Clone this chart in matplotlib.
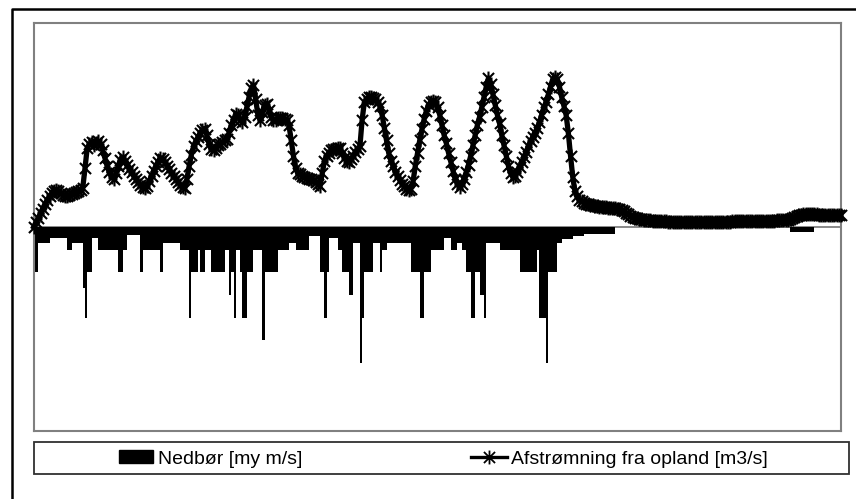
import numpy as np
import matplotlib
matplotlib.use('Agg')
import matplotlib.pyplot as plt
from matplotlib.path import Path
from matplotlib.lines import Line2D
from matplotlib.patches import Rectangle, Patch

plt.rcParams['font.family'] = ['Liberation Sans', 'DejaVu Sans']

# daily runoff from the catchment [m3/s]
afstroemning = [
    0.0, 0.09, 0.18, 0.27, 0.36, 0.45, 0.53, 0.6, 0.66, 0.71,
    0.72, 0.7, 0.66, 0.63, 0.61, 0.6, 0.62, 0.64, 0.66, 0.68,
    0.7, 0.73, 0.77, 1.15, 1.55, 1.62, 1.66, 1.6, 1.64, 1.68,
    1.62, 1.5, 1.35, 1.2, 1.07, 0.98, 0.95, 1.05, 1.2, 1.32,
    1.37, 1.3, 1.22, 1.14, 1.07, 1.0, 0.94, 0.88, 0.83, 0.79,
    0.76, 0.8, 0.9, 1.0, 1.1, 1.2, 1.28, 1.36, 1.33, 1.27,
    1.2, 1.13, 1.06, 1.0, 0.94, 0.88, 0.83, 0.79, 0.76, 0.95,
    1.2, 1.42, 1.58, 1.68, 1.76, 1.85, 1.9, 1.93, 1.8, 1.62,
    1.52, 1.5, 1.55, 1.6, 1.63, 1.66, 1.7, 1.72, 1.85, 2.0,
    2.1, 2.22, 2.2, 2.1, 2.05, 2.15, 2.35, 2.55, 2.72, 2.78,
    2.5, 2.2, 2.1, 2.25, 2.4, 2.42, 2.3, 2.15, 2.09, 2.1,
    2.13, 2.13, 2.14, 2.12, 2.1, 2.0, 1.7, 1.4, 1.15, 1.05,
    1.03, 1.0, 0.98, 0.97, 0.95, 0.94, 0.92, 0.88, 0.84, 0.8,
    1.05, 1.3, 1.4, 1.45, 1.5, 1.52, 1.53, 1.54, 1.55, 1.45,
    1.36, 1.3, 1.27, 1.33, 1.4, 1.47, 1.53, 1.58, 2.1, 2.45,
    2.5, 2.55, 2.55, 2.52, 2.5, 2.45, 2.38, 2.2, 1.95, 1.7,
    1.45, 1.3, 1.2, 1.08, 1.0, 0.93, 0.85, 0.8, 0.75, 0.72,
    0.75, 0.9, 1.2, 1.45, 1.7, 1.92, 2.12, 2.28, 2.4, 2.45,
    2.48, 2.45, 2.35, 2.2, 2.0, 1.8, 1.64, 1.45, 1.28, 1.1,
    0.95, 0.85, 0.79, 0.85, 0.95, 1.08, 1.22, 1.4, 1.6, 1.8,
    2.0, 2.16, 2.35, 2.55, 2.75, 2.92, 2.8, 2.6, 2.4, 2.2,
    2.03, 1.8, 1.6, 1.4, 1.2, 1.05, 0.98, 1.0, 1.08, 1.18,
    1.28, 1.38, 1.48, 1.58, 1.68, 1.77, 1.85, 1.95, 2.05, 2.2,
    2.35, 2.45, 2.6, 2.75, 2.9, 2.94, 2.9, 2.75, 2.55, 2.38,
    2.2, 1.85, 1.4, 0.98, 0.7, 0.6, 0.52, 0.5, 0.48, 0.46,
    0.45, 0.44, 0.43, 0.42, 0.41, 0.4, 0.4, 0.39, 0.39, 0.38,
    0.38, 0.37, 0.37, 0.36, 0.36, 0.34, 0.31, 0.28, 0.25, 0.22,
    0.2, 0.18, 0.17, 0.16, 0.15, 0.14, 0.14, 0.13, 0.13, 0.12,
    0.12, 0.12, 0.11, 0.11, 0.11, 0.11, 0.1, 0.1, 0.1, 0.1,
    0.1, 0.1, 0.1, 0.1, 0.1, 0.1, 0.1, 0.1, 0.1, 0.1,
    0.1, 0.1, 0.1, 0.1, 0.1, 0.1, 0.1, 0.1, 0.1, 0.1,
    0.1, 0.1, 0.1, 0.1, 0.1, 0.11, 0.11, 0.11, 0.11, 0.11,
    0.11, 0.11, 0.11, 0.11, 0.11, 0.12, 0.12, 0.12, 0.12, 0.12,
    0.12, 0.12, 0.12, 0.12, 0.12, 0.13, 0.13, 0.13, 0.13, 0.13,
    0.14, 0.16, 0.18, 0.2, 0.22, 0.23, 0.24, 0.25, 0.25, 0.25,
    0.25, 0.25, 0.25, 0.25, 0.24, 0.24, 0.24, 0.24, 0.24, 0.24,
    0.24, 0.24, 0.23, 0.23, 0.23,
]

# daily precipitation [my m/s]
nedboer = [
    2, 2, 0.7, 0.7, 0.7, 0.7, 0.7, 0.5, 0.5, 0.5,
    0.5, 0.5, 0.5, 0.5, 0.5, 1, 1, 0.7, 0.7, 0.7,
    0.7, 0.7, 2.7, 4, 2, 2, 0.5, 0.5, 0.5, 1,
    1, 1, 1, 1, 1, 1, 1, 1, 2, 2,
    1, 1, 0.35, 0.35, 0.35, 0.35, 0.35, 0.35, 2, 1,
    1, 1, 1, 1, 1, 1, 1, 2, 0.7, 0.7,
    0.7, 0.7, 0.7, 0.7, 0.7, 0.7, 1, 1, 1, 1,
    4, 2, 2, 2, 1, 2, 2, 1, 1, 1,
    2, 2, 2, 2, 2, 2, 1, 1, 3, 2,
    4, 1, 1, 2, 4, 4, 2, 2, 2, 1,
    1, 1, 1, 5, 2, 2, 2, 2, 2, 2,
    1, 1, 1, 1, 1, 0.7, 0.7, 0.7, 1, 1,
    1, 1, 1, 1, 0.4, 0.4, 0.4, 0.4, 0.4, 2,
    2, 4, 2, 0.5, 0.5, 0.5, 0.5, 1, 1, 2,
    2, 2, 3, 3, 0.7, 0.7, 0.7, 6, 4, 2,
    2, 2, 2, 0.7, 0.7, 0.7, 2, 1, 1, 0.7,
    0.7, 0.7, 0.7, 0.7, 0.7, 0.7, 0.7, 0.7, 0.7, 0.7,
    2, 2, 2, 2, 4, 4, 2, 2, 2, 1,
    1, 1, 1, 1, 1, 0.5, 0.5, 0.5, 1, 1,
    1, 0.7, 0.7, 1, 1, 2, 2, 4, 4, 2,
    2, 3, 3, 4, 0.7, 0.7, 0.7, 0.7, 0.7, 0.7,
    1, 1, 1, 1, 1, 1, 1, 1, 1, 2,
    2, 2, 2, 2, 2, 2, 2, 1, 4, 4,
    4, 6, 2, 2, 2, 2, 0.7, 0.7, 0.55, 0.55,
    0.55, 0.55, 0.55, 0.4, 0.4, 0.4, 0.4, 0.4, 0.3, 0.3,
    0.3, 0.3, 0.3, 0.3, 0.3, 0.3, 0.3, 0.3, 0.3, 0.3,
    0.3, 0.3, 0, 0, 0, 0, 0, 0, 0, 0,
    0, 0, 0, 0, 0, 0, 0, 0, 0, 0,
    0, 0, 0, 0, 0, 0, 0, 0, 0, 0,
    0, 0, 0, 0, 0, 0, 0, 0, 0, 0,
    0, 0, 0, 0, 0, 0, 0, 0, 0, 0,
    0, 0, 0, 0, 0, 0, 0, 0, 0, 0,
    0, 0, 0, 0, 0, 0, 0, 0, 0, 0,
    0, 0, 0, 0, 0, 0, 0, 0, 0, 0,
    0, 0.2, 0.2, 0.2, 0.2, 0.2, 0.2, 0.2, 0.2, 0.2,
    0.2, 0.2, 0, 0, 0, 0, 0, 0, 0, 0,
    0, 0, 0, 0, 0,
]

labels = ['Nedbør [my m/s]', 'Afstrømning fra opland [m3/s]']

days = np.arange(len(afstroemning))

# asterisk marker: an x with a vertical stroke
star = Path([(0, -1), (0, 1), (-0.8, -0.8), (0.8, 0.8), (-0.8, 0.8), (0.8, -0.8)],
            [Path.MOVETO, Path.LINETO] * 3)

W, H = 856, 499
fig = plt.figure(figsize=(W / 100, H / 100), dpi=100)

# plot area in pixels: x 34..841, y 23..431
ax = fig.add_axes([34 / W, 1 - 431 / H, (841 - 34) / W, (431 - 23) / H])
ax.bar(days, nedboer, width=1.0, align='edge', color='black', linewidth=0, zorder=2)
ax.axhline(0, color='#808080', lw=1.3, zorder=1)
ax.set_ylim(9, -9)
ax.set_xlim(0, days[-1])
ax.set_xticks([])
ax.set_yticks([])
for s in ax.spines.values():
    s.set_color('#808080')
    s.set_linewidth(1.5)

ax2 = ax.twinx()
ax2.plot(days, afstroemning, color='black', lw=3.8, marker=star, ms=10,
         mew=1.5, mfc='none', mec='black', clip_on=False)
ax2.set_ylim(-4, 4)
ax2.set_yticks([])
for s in ax2.spines.values():
    s.set_visible(False)

# outer frame (only top and left edges fall inside the image)
fig.add_artist(Line2D([12 / W, 12 / W, 1.0], [0, 1 - 9 / H, 1 - 9 / H],
                      transform=fig.transFigure, color='black', lw=1.8))

# legend box below the plot
fig.add_artist(Rectangle((34 / W, 1 - 474 / H), (849 - 34) / W, 32 / H,
                         transform=fig.transFigure, fill=False,
                         edgecolor='#303030', lw=1.3))
ycen = 1 - 459 / H
h1 = Patch(facecolor='black', edgecolor='black')
h2 = Line2D([], [], color='black', lw=2.4, marker=star, ms=10, mew=1.3)
fig.legend([h1], [labels[0]], loc='center left', bbox_to_anchor=(119 / W, ycen),
           frameon=False, fontsize=14, handlelength=1.74, handleheight=0.65,
           handletextpad=0.28, borderpad=0, borderaxespad=0)
fig.legend([h2], [labels[1]], loc='center left', bbox_to_anchor=(471 / W, ycen),
           frameon=False, fontsize=14, handlelength=1.85, numpoints=1,
           handletextpad=0.2, borderpad=0, borderaxespad=0)

fig.savefig('out.png', dpi=100)
